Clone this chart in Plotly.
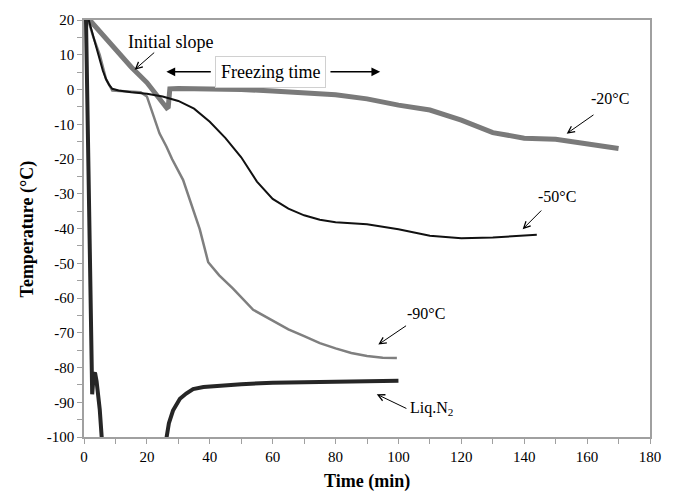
import plotly.graph_objects as go

# -20 °C series
t_m20 = [1.8, 5, 10, 15, 20, 25, 26.3, 26.8, 27.3, 30, 40, 50, 60, 70, 80, 90, 100, 110, 120, 130, 140, 150, 160, 170]
T_m20 = [20, 16.7, 11.5, 6.5, 2.0, -3.5, -5.3, -5.0, 0.2, 0.3, 0.2, 0.0, -0.4, -0.8, -1.5, -2.7, -4.5, -5.9, -8.8, -12.4, -14.0, -14.3, -15.6, -17.0]

# -50 °C series
t_m50 = [1.5, 3, 4, 5, 6, 7, 8, 9, 11, 15, 20, 25, 30, 35, 40, 45, 50, 55, 60, 65, 70, 75, 80, 90, 100, 110, 120, 130, 140, 144]
T_m50 = [20, 15, 12, 8.5, 5.4, 3.0, 1.3, 0.2, -0.3, -0.8, -1.2, -2.0, -3.3, -5.5, -9.3, -14.0, -19.5, -26.5, -31.5, -34.3, -36.2, -37.5, -38.2, -38.8, -40.2, -42.1, -42.8, -42.6, -42.0, -41.8]

# -90 °C series
t_m90 = [1.3, 3, 5, 7, 9, 12, 15, 18, 20, 22, 24, 26.2, 28, 31.5, 34, 36.8, 39.5, 43, 47.4, 50, 53.8, 60, 65, 70, 75, 80, 85, 90, 95, 99.5]
T_m90 = [20, 15, 10, 3, -0.3, -0.5, -0.5, -0.8, -2, -7, -12.6, -16.4, -20, -26, -32.5, -40.2, -49.7, -53.5, -57.3, -59.8, -63.4, -66.5, -69, -71, -73, -74.5, -75.8, -76.7, -77.2, -77.3]

# Liquid nitrogen series (None = off-scale gap)
t_ln2 = [0.6, 1.2, 1.8, 2.3, 2.6, 3.1, 3.5, 4.0, 4.5, 5.0, 5.7, None, 26.1, 27, 28.3, 30.5, 32.5, 34.7, 38, 42, 50, 60, 70, 80, 90, 100]
T_ln2 = [22, -10, -45, -75, -87.7, -82, -81.5, -84, -88, -92, -101, None, -101, -96, -92.4, -89, -87.5, -86.2, -85.6, -85.3, -84.8, -84.4, -84.2, -84.0, -84.0, -83.8]

x_ticks = [0, 20, 40, 60, 80, 100, 120, 140, 160, 180]
y_ticks = [20, 10, 0, -10, -20, -30, -40, -50, -60, -70, -80, -90, -100]

FONT = "Liberation Serif"

fig = go.Figure()
fig.add_trace(go.Scatter(x=t_m90, y=T_m90, mode="lines", line=dict(color="#7f7f7f", width=2.5), name="-90°C"))
fig.add_trace(go.Scatter(x=t_m20, y=T_m20, mode="lines", line=dict(color="#7a7a7a", width=5), name="-20°C"))
fig.add_trace(go.Scatter(x=t_m50, y=T_m50, mode="lines", line=dict(color="#111111", width=2), name="-50°C"))
fig.add_trace(go.Scatter(x=t_ln2, y=T_ln2, mode="lines", line=dict(color="#262626", width=4), name="Liq.N2", connectgaps=False))

annotations = []

def arrow(x, y, ax, ay, head=5, width=1.0, size=1.3):
    annotations.append(dict(x=x, y=y, ax=ax, ay=ay, xref="x", yref="y", axref="x", ayref="y",
                            text="", showarrow=True, arrowhead=head, arrowsize=size,
                            arrowwidth=width, arrowcolor="#000000"))

def label(x, y, text, size=16):
    annotations.append(dict(x=x, y=y, xref="x", yref="y", text=text, showarrow=False,
                            font=dict(family=FONT, size=size, color="#000000")))

# Initial slope
label(27.6, 13.6, "Initial slope", size=18)
arrow(16.1, 5.7, 22.8, 11.0)
# Freezing time box + arrows
annotations.append(dict(x=59.2, y=5.1, xref="x", yref="y", text="Freezing time", showarrow=False,
                        font=dict(family=FONT, size=18, color="#000000"),
                        bordercolor="#d0d0d0", borderwidth=1, borderpad=5, bgcolor="#ffffff"))
arrow(26.2, 5.1, 40.8, 5.1, head=2, width=1.6, size=1.1)
arrow(94.2, 5.1, 77.9, 5.1, head=2, width=1.6, size=1.1)
# series labels
label(167.3, -2.7, "-20°C")
arrow(153.5, -12.7, 162.5, -7.0)
label(150.4, -30.7, "-50°C")
arrow(139.5, -40.2, 145.9, -34.4)
label(108.9, -64.5, "-90°C")
arrow(93.6, -73.4, 102.9, -67.7)
label(110.5, -91.8, "Liq.N<sub>2</sub>")
arrow(93.1, -87.7, 103.0, -92.0)

# axis titles
annotations.append(dict(x=0.5, y=-0.106, xref="paper", yref="paper", xanchor="center", yanchor="middle",
                        text="<b>Time (min)</b>", showarrow=False,
                        font=dict(family=FONT, size=18, color="#000000")))
annotations.append(dict(x=-0.099, y=0.5, xref="paper", yref="paper", xanchor="center", yanchor="middle",
                        text="<b>Temperature (°C)</b>", showarrow=False, textangle=-90,
                        font=dict(family=FONT, size=18, color="#000000")))

fig.update_layout(
    width=674, height=494,
    margin=dict(l=84, r=24, t=15, b=57),
    paper_bgcolor="#ffffff", plot_bgcolor="#ffffff",
    showlegend=False,
    annotations=annotations,
    font=dict(family=FONT, size=14, color="#000000"),
)
axis_common = dict(showgrid=False, zeroline=False, showline=True, linecolor="#a0a0a0", linewidth=1.5,
                   mirror=True, ticks="outside", ticklen=5, tickcolor="#a0a0a0", tickwidth=1,
                   tickfont=dict(family=FONT, size=15, color="#000000"))
fig.update_xaxes(range=[0, 180], tickvals=x_ticks, ticktext=[str(v) for v in x_ticks],
                 minor=dict(dtick=10, tick0=0, ticks="outside", ticklen=5, tickcolor="#a0a0a0"),
                 **axis_common)
fig.update_yaxes(range=[-100, 20], tickvals=y_ticks, ticktext=[str(v) for v in y_ticks],
                 minor=dict(dtick=5, tick0=0, ticks="outside", ticklen=5, tickcolor="#a0a0a0"),
                 **axis_common)

fig.write_html("out.html")
